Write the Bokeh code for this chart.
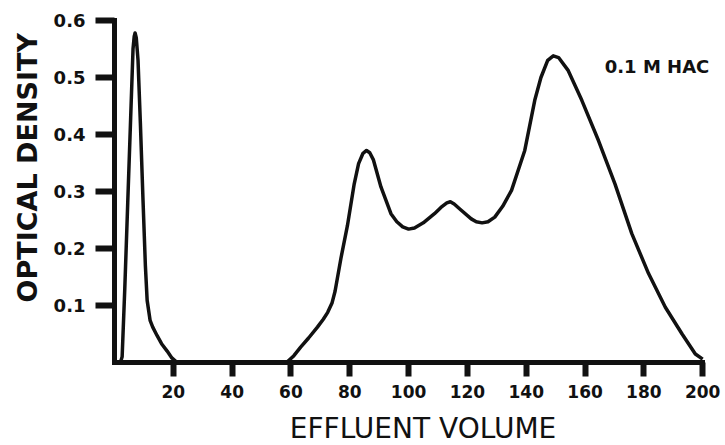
from bokeh.plotting import figure
from bokeh.layouts import column
from bokeh.models import FixedTicker, Label, Range1d, Title
from bokeh.embed import file_html
from bokeh.resources import INLINE

# Solvent-front peak
front_volume = [2.0, 2.6, 3.5, 4.5, 5.5, 6.3, 6.7, 7.0, 7.4, 8.0, 8.8, 9.7, 10.5,
                11.1, 12.1, 13.0, 14.5, 16.0, 17.9, 19.5, 21.3]
front_od = [0.0, 0.01, 0.13, 0.28, 0.43, 0.55, 0.572, 0.578, 0.57, 0.53, 0.42,
            0.284, 0.17, 0.109, 0.074, 0.062, 0.047, 0.033, 0.02, 0.008, 0.0]

# Main elution profile
main_volume = [58.5, 61.0, 63.3, 66.0, 69.0, 71.0, 72.5, 74.0, 75.0, 77.0, 79.2,
               81.5, 83.0, 84.5, 85.7, 86.8, 88.0, 90.6, 94.0, 96.0, 98.0, 100.0,
               102.0, 105.0, 108.8, 111.0, 113.0, 114.2, 115.5, 117.9, 121.3,
               123.0, 125.0, 127.0, 129.3, 132.0, 135.0, 139.5, 142.9, 145.0,
               147.3, 149.2, 151.0, 154.3, 158.9, 164.6, 170.2, 175.9, 181.6,
               187.3, 193.0, 197.5, 200.0]
main_od = [0.0, 0.012, 0.027, 0.043, 0.062, 0.076, 0.088, 0.105, 0.125, 0.183,
           0.24, 0.313, 0.349, 0.367, 0.372, 0.368, 0.356, 0.308, 0.261, 0.247,
           0.238, 0.234, 0.236, 0.245, 0.261, 0.272, 0.28, 0.282, 0.278, 0.267,
           0.252, 0.247, 0.245, 0.247, 0.255, 0.274, 0.302, 0.372, 0.46, 0.5,
           0.53, 0.538, 0.535, 0.512, 0.46, 0.389, 0.313, 0.226, 0.156, 0.097,
           0.05, 0.015, 0.006]

x_ticks = [20, 40, 60, 80, 100, 120, 140, 160, 180, 200]
y_ticks = [0.1, 0.2, 0.3, 0.4, 0.5, 0.6]
x_tick_labels = {20: "20", 40: "40", 60: "60", 80: "80", 100: "100", 120: "120",
                 140: "140", 160: "160", 180: "180", 200: "200"}
y_tick_labels = {0.1: "0.1", 0.2: "0.2", 0.3: "0.3", 0.4: "0.4", 0.5: "0.5", 0.6: "0.6"}

ink = "#111111"

p = figure(width=725, height=406, output_backend="svg", toolbar_location=None,
           title=None,
           x_range=Range1d(0, 203), y_range=Range1d(0, 0.6),
           min_border_left=114, min_border_right=14, min_border_top=20,
           min_border_bottom=44, background_fill_color="white",
           border_fill_color="white")
p.outline_line_color = None
p.grid.visible = False

p.line(front_volume, front_od, line_color=ink, line_width=3.5, line_join="round")
p.line(main_volume, main_od, line_color=ink, line_width=3.5, line_join="round")

for ax in (p.xaxis[0], p.yaxis[0]):
    ax.axis_line_color = ink
    ax.axis_line_width = 5
    ax.axis_line_cap = "square"
    ax.major_tick_line_color = ink
    ax.major_tick_line_width = 6
    ax.major_tick_in = 0
    ax.minor_tick_line_color = None
    ax.major_label_text_font = "DejaVu Sans"
    ax.major_label_text_font_style = "bold"
    ax.major_label_text_color = ink

p.xaxis.bounds = (0, 200)
p.xaxis.ticker = FixedTicker(ticks=x_ticks)
p.yaxis.ticker = FixedTicker(ticks=y_ticks)
p.xaxis.major_label_overrides = x_tick_labels
p.yaxis.major_label_overrides = y_tick_labels

p.xaxis.major_label_text_font_size = "17px"
p.xaxis.major_tick_out = 14
p.xaxis.major_label_standoff = 8
p.yaxis.major_label_text_font_size = "18px"
p.yaxis.major_tick_out = 19
p.yaxis.major_label_standoff = 10

p.add_layout(Title(text="OPTICAL DENSITY", align="left", offset=60,
                   text_font="DejaVu Sans", text_font_style="bold",
                   text_font_size="27px", text_color=ink, standoff=15), "left")

p.add_layout(Label(x=166.7, y=0.519, text="0.1 M HAC", text_font="DejaVu Sans",
                   text_font_style="bold", text_font_size="18px", text_color=ink,
                   text_align="left", text_baseline="middle"))

# strip beneath the chart carrying the x-axis title (shares the volume scale)
t = figure(width=725, height=39, output_backend="svg", toolbar_location=None,
           title=None, x_range=p.x_range, y_range=Range1d(0, 39),
           min_border=0, background_fill_color="white",
           border_fill_color="white")
t.outline_line_color = None
t.grid.visible = False
t.xaxis.visible = False
t.yaxis.visible = False
t.add_layout(Label(x=104.9, y=17, text="EFFLUENT VOLUME", text_font="DejaVu Sans",
                   text_font_size="28px", text_color=ink, text_align="center",
                   text_baseline="middle"))

layout = column(p, t, spacing=0)
open("out.html", "w").write(file_html(layout, INLINE))
